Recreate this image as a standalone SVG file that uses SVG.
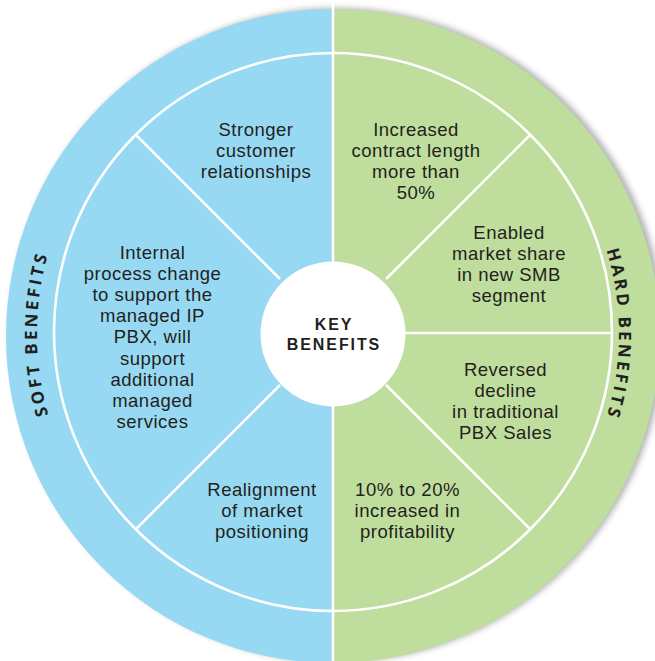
<svg xmlns="http://www.w3.org/2000/svg" xmlns:xlink="http://www.w3.org/1999/xlink" width="655" height="661" viewBox="0 0 655 661">
  <style>
    .body { font-family: "Liberation Sans", Arial, sans-serif; font-size: 18.5px; letter-spacing: 0.5px; fill: #231f20; text-anchor: middle; }
    .hub { font-family: "Liberation Sans", Arial, sans-serif; font-size: 16px; font-weight: 700; fill: #231f20; text-anchor: middle; letter-spacing: 1.9px; }
    .ring { font-family: "Open Sans", "Noto Sans", "DejaVu Sans", sans-serif; font-size: 17px; font-weight: 700; fill: #231f20; letter-spacing: 3px; }
    .divider { stroke: #ffffff; stroke-width: 2.6; fill: none; }
    .soft { fill: #97d9f2; }
    .hard { fill: #bfdd9c; }
  </style>
  <defs>
    <filter id="shadow" x="-10%" y="-10%" width="120%" height="120%">
      <feGaussianBlur stdDeviation="3"/>
    </filter>
    <path id="softArc" d="M 333 630 A 296 296 0 0 1 333 38"/>
    <path id="hardArc" d="M 333 48 A 286 286 0 0 1 333 620"/>
  </defs>

  <rect width="655" height="661" fill="#ffffff"/>

  <!-- soft drop shadow behind the wheel -->
  <circle cx="337" cy="335" r="327" fill="#000000" opacity="0.3" filter="url(#shadow)"/>

  <!-- wheel halves -->
  <g id="soft-half">
    <path class="soft" d="M 333 9 A 327 327 0 0 0 333 663 Z"/>
  </g>
  <g id="hard-half">
    <path class="hard" d="M 333 9 A 327 327 0 0 1 333 663 Z"/>
  </g>

  <!-- dividers: inner ring, centre line and sector spokes -->
  <g id="dividers">
    <circle class="divider" cx="333" cy="332" r="279"/>
    <line class="divider" x1="333" y1="0" x2="333" y2="661"/>
    <line class="divider" x1="280" y1="279" x2="135.7" y2="134.7"/>
    <line class="divider" x1="280" y1="385" x2="135.7" y2="529.3"/>
    <line class="divider" x1="386" y1="279" x2="530.3" y2="134.7"/>
    <line class="divider" x1="386" y1="385" x2="530.3" y2="529.3"/>
    <line class="divider" x1="405" y1="333" x2="612" y2="333"/>
  </g>

  <!-- ring labels -->
  <g id="soft-benefits">
    <text class="ring"><textPath xlink:href="#softArc" href="#softArc" startOffset="50%" text-anchor="middle">SOFT BENEFITS</textPath></text>
  </g>
  <g id="hard-benefits">
    <text class="ring"><textPath xlink:href="#hardArc" href="#hardArc" startOffset="50%" text-anchor="middle">HARD BENEFITS</textPath></text>
  </g>

  <!-- hub -->
  <g id="key-benefits">
    <circle cx="333" cy="334" r="72.5" fill="#ffffff"/>
    <text class="hub" x="334" y="330">KEY</text>
    <text class="hub" x="334" y="350">BENEFITS</text>
  </g>

  <!-- soft benefit sectors -->
  <g id="stronger-relationships">
    <text class="body" x="256" y="136">Stronger<tspan x="256" y="157">customer</tspan><tspan x="256" y="178">relationships</tspan></text>
  </g>
  <g id="internal-process">
    <text class="body" x="152.5" y="259">Internal<tspan x="152.5" y="280.1">process change</tspan><tspan x="152.5" y="301.2">to support the</tspan><tspan x="152.5" y="322.3">managed IP</tspan><tspan x="152.5" y="343.4">PBX, will</tspan><tspan x="152.5" y="364.5">support</tspan><tspan x="152.5" y="385.6">additional</tspan><tspan x="152.5" y="406.7">managed</tspan><tspan x="152.5" y="427.8">services</tspan></text>
  </g>
  <g id="realignment">
    <text class="body" x="262" y="496">Realignment<tspan x="262" y="517">of market</tspan><tspan x="262" y="538">positioning</tspan></text>
  </g>

  <!-- hard benefit sectors -->
  <g id="contract-length">
    <text class="body" x="416" y="136">Increased<tspan x="416" y="157">contract length</tspan><tspan x="416" y="178">more than</tspan><tspan x="416" y="199">50%</tspan></text>
  </g>
  <g id="market-share">
    <text class="body" x="509" y="239">Enabled<tspan x="509" y="260">market share</tspan><tspan x="509" y="281">in new SMB</tspan><tspan x="509" y="302">segment</tspan></text>
  </g>
  <g id="reversed-decline">
    <text class="body" x="505.5" y="376">Reversed<tspan x="505.5" y="397">decline</tspan><tspan x="505.5" y="418">in traditional</tspan><tspan x="505.5" y="439">PBX Sales</tspan></text>
  </g>
  <g id="profitability">
    <text class="body" x="407.5" y="496">10% to 20%<tspan x="407.5" y="517">increased in</tspan><tspan x="407.5" y="538">profitability</tspan></text>
  </g>
</svg>
